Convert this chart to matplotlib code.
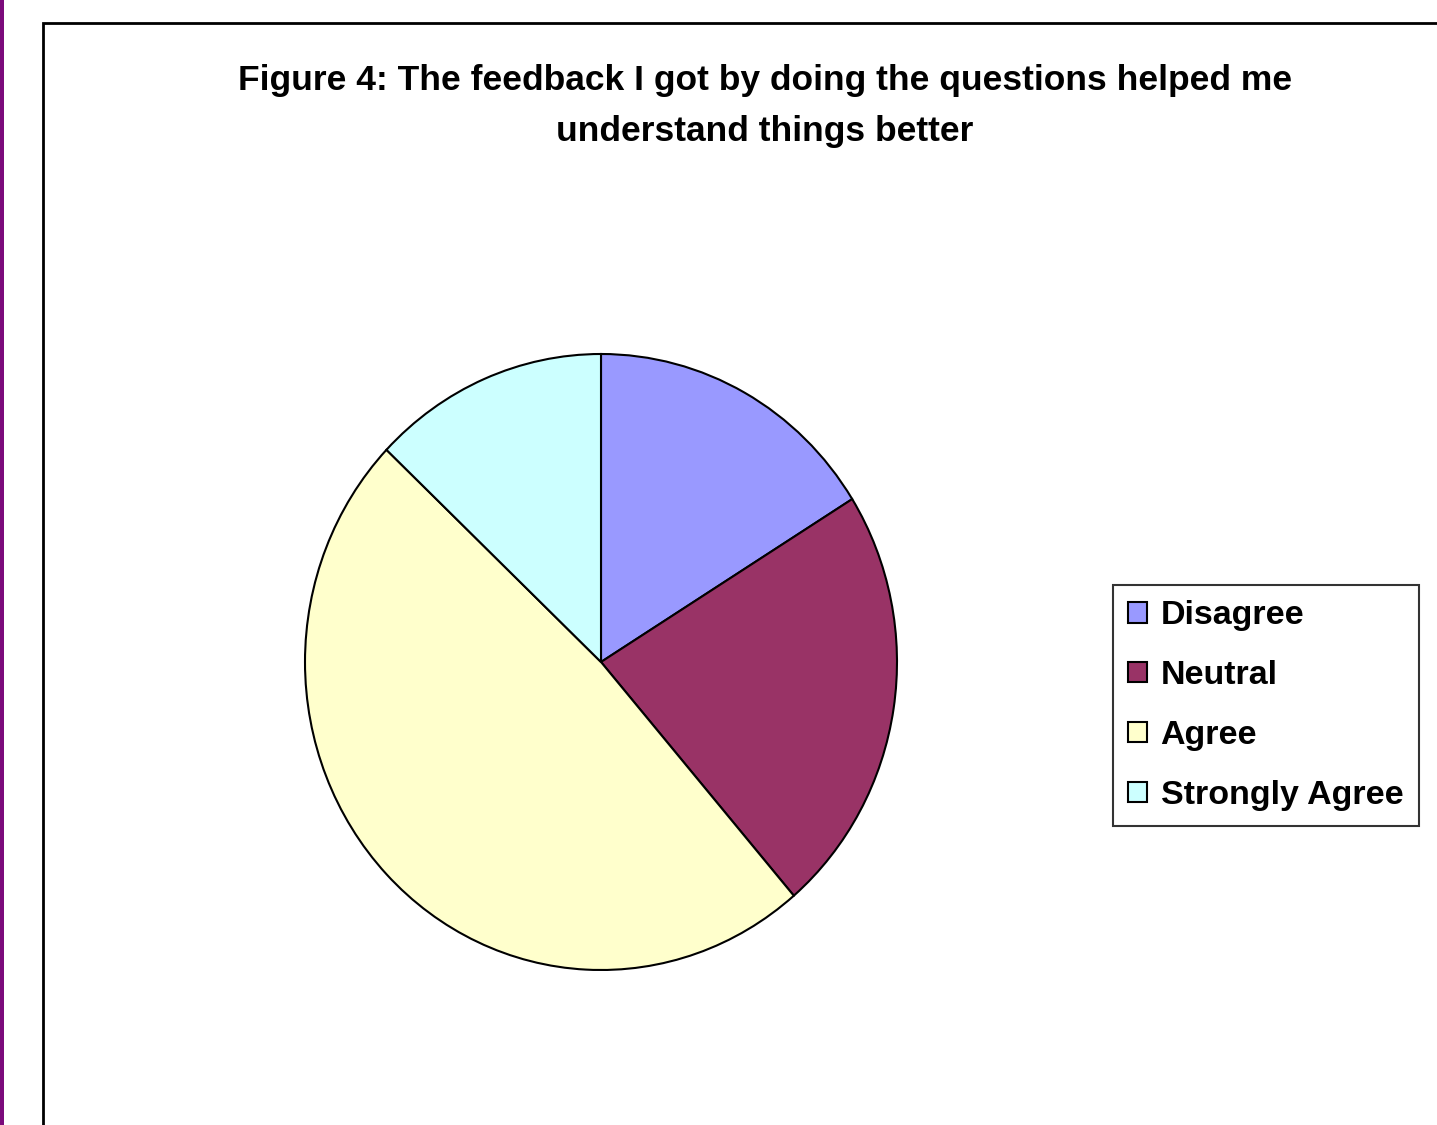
import matplotlib.pyplot as plt
from matplotlib.patches import Rectangle

labels = ['Disagree', 'Neutral', 'Agree', 'Strongly Agree']
counts = [5, 7, 15, 4]
colors = ['#9999FF', '#993366', '#FFFFCC', '#CCFFFF']
title = 'Figure 4: The feedback I got by doing the questions helped me\nunderstand things better'

plt.rcParams['font.family'] = ['Liberation Sans', 'DejaVu Sans']

W, H = 1437, 1125
fig = plt.figure(figsize=(W / 100, H / 100), dpi=100)

# purple page edge and the chart frame
fig.patches.append(Rectangle((0, 0), 4 / W, 1, transform=fig.transFigure,
                             facecolor='#7B0A7B', edgecolor='none'))
fig.patches.append(Rectangle((43 / W, -0.1), 1.2, 1 - 23 / H + 0.1,
                             transform=fig.transFigure, facecolor='none',
                             edgecolor='black', linewidth=2))

cx, cy, rx, ry = 601, 662, 296, 308
ax = fig.add_axes([(cx - rx) / W, (H - cy - ry) / H, 2 * rx / W, 2 * ry / H])
wedges, _ = ax.pie(counts, colors=colors, startangle=90, counterclock=False,
                   radius=1, wedgeprops=dict(edgecolor='black', linewidth=1.5))
ax.set_aspect('auto')
ax.set_xlim(-1, 1)
ax.set_ylim(-1, 1)

fig.text(765 / W, 1 - 106 / H, title, ha='center', va='center',
         fontsize=25.5, fontweight='bold', linespacing=1.7)

leg = fig.legend(wedges, labels, loc='upper left',
                 bbox_to_anchor=(1113 / W, 1 - 585 / H),
                 fontsize=24.5, frameon=True, fancybox=False,
                 handlelength=0.55, handleheight=0.55, handletextpad=0.4,
                 labelspacing=0.85, borderpad=0.45, borderaxespad=0)
for t in leg.get_texts():
    t.set_fontweight('bold')
leg.get_frame().set_edgecolor('black')
leg.get_frame().set_linewidth(1.5)

fig.savefig('out.png', dpi=100)
